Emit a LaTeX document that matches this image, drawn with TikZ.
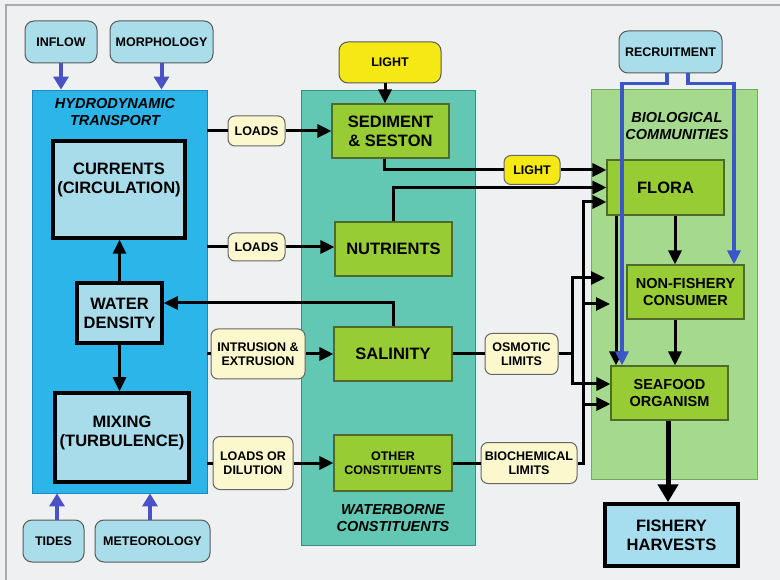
\documentclass[tikz,border=0pt]{standalone}
\usepackage{fontspec}
\setmainfont{Liberation Sans}
\usetikzlibrary{arrows.meta}
\definecolor{bg}{HTML}{EEF0F1}
\definecolor{frame}{HTML}{A8AAAC}
\definecolor{hydro}{HTML}{2CB5E8}
\definecolor{hydroedge}{HTML}{1C88C8}
\definecolor{teal1}{HTML}{62C7B3}
\definecolor{tealedge}{HTML}{3C8C7C}
\definecolor{bio}{HTML}{A5DA8E}
\definecolor{bioedge}{HTML}{6AAE5A}
\definecolor{lightblue}{HTML}{A9DCEA}
\definecolor{srcblue}{HTML}{AADDEA}
\definecolor{harvblue}{HTML}{A6DEF0}
\definecolor{gfill}{HTML}{98CC34}
\definecolor{gedge}{HTML}{4F6A2A}
\definecolor{cream}{HTML}{FCF8CE}
\definecolor{yel}{HTML}{F6E814}
\definecolor{barrow}{HTML}{4A52C4}
\definecolor{rblue}{HTML}{3A56C8}
\tikzset{
  bigtext/.style={font=\fontsize{16.5}{19}\selectfont\bfseries, align=center},
  midtext/.style={font=\fontsize{14.5}{17}\selectfont\bfseries, align=center},
  smalltext/.style={font=\fontsize{12.5}{14.5}\selectfont\bfseries, align=center},
  titletext/.style={font=\fontsize{14.5}{16.5}\selectfont\bfseries\itshape, align=center},
  panel/.style={inner sep=0pt, line width=0.8pt},
  src/.style={smalltext, draw=black!65, fill=srcblue, rounded corners=9pt, line width=1pt, inner sep=0pt},
  ysrc/.style={src, fill=yel},
  lbl/.style={smalltext, draw=black!60, fill=cream, rounded corners=7pt, line width=1pt, inner sep=0pt},
  ylbl/.style={lbl, fill=yel},
  hbox/.style={bigtext, draw=black, line width=3.5pt, fill=lightblue, inner sep=0pt},
  gbox/.style={bigtext, draw=gedge, line width=1.1pt, fill=gfill, inner sep=0pt, minimum width=117pt, minimum height=54pt},
  conn/.style={line width=3pt, black},
  arr/.style={conn, -{Triangle[length=14pt,width=13pt]}},
  bigarr/.style={line width=5pt, black, -{Triangle[length=18pt,width=20pt]}},
  barr/.style={line width=4pt, barrow, -{Triangle[length=13pt,width=15pt]}},
  rarr/.style={line width=3.2pt, rblue, -{Triangle[length=14pt,width=13pt]}},
}
\begin{document}
\begin{tikzpicture}[x=1pt,y=-1pt]
\path[use as bounding box, fill=bg] (0,0) rectangle (780,580);
\draw[frame, line width=1.2pt] (6,580) -- (6,5) -- (780,5);

% panels
\node[panel, fill=hydro, draw=hydroedge, minimum width=175pt, minimum height=403pt] (hydro) at (119.5,291.5) {};
\node[panel, fill=teal1, draw=tealedge, minimum width=174pt, minimum height=455pt] (water) at (388,317.5) {};
\node[panel, fill=bio, draw=bioedge, minimum width=166pt, minimum height=390pt] (bio) at (674,284) {};

% titles
\node[titletext] (htitle) at (115,112) {HYDRODYNAMIC\\TRANSPORT};
\node[titletext] (wtitle) at (393,518) {WATERBORNE\\CONSTITUENTS};
\node[titletext] (btitle) at (677,126) {BIOLOGICAL\\COMMUNITIES};

% sources
\node[src, minimum width=72pt, minimum height=42pt] (inflow) at (61,42) {INFLOW};
\node[src, minimum width=103pt, minimum height=42pt] (morph) at (161.5,42) {MORPHOLOGY};
\node[src, minimum width=61pt, minimum height=42pt] (tides) at (53.5,541) {TIDES};
\node[src, minimum width=115pt, minimum height=42pt] (meteo) at (152.5,541) {METEOROLOGY};
\node[src, minimum width=103pt, minimum height=42pt] (recruit) at (670.5,52) {RECRUITMENT};
\node[ysrc, minimum width=102pt, minimum height=41pt] (light) at (390,62.5) {LIGHT};

% hydrodynamic boxes
\node[hbox, minimum width=132pt, minimum height=97pt,
  label={[bigtext, yshift=10pt]center:{CURRENTS\\(CIRCULATION)}}] (currents) at (119,189.5) {};
\node[hbox, minimum width=85pt, minimum height=60pt] (wd) at (119.5,313) {WATER\\DENSITY};
\node[hbox, minimum width=134pt, minimum height=89pt,
  label={[bigtext, yshift=5pt]center:{MIXING\\(TURBULENCE)}}] (mixing) at (122,437.5) {};

% waterborne boxes
\node[gbox] (sed) at (390.5,131) {SEDIMENT\\\& SESTON};
\node[gbox] (nut) at (393.5,249) {NUTRIENTS};
\node[gbox, minimum width=118pt] (sal) at (393,354) {SALINITY};
\node[gbox, smalltext, minimum width=118pt, minimum height=56pt] (other) at (393,463) {OTHER\\CONSTITUENTS};

% biological boxes
\node[gbox, minimum height=55pt] (flora) at (665.5,187.5) {FLORA};
\node[gbox, midtext] (nonf) at (685.5,292) {NON-FISHERY\\CONSUMER};
\node[gbox, midtext] (sea) at (669.5,393) {SEAFOOD\\ORGANISM};
\node[hbox, fill=harvblue, minimum width=133pt, minimum height=62pt] (harv) at (671.5,535) {FISHERY\\HARVESTS};

% labels
\node[lbl, minimum width=57pt, minimum height=30pt] (loads1) at (256.5,131) {LOADS};
\node[lbl, minimum width=57pt, minimum height=28pt] (loads2) at (256.5,247) {LOADS};
\node[lbl, minimum width=94pt, minimum height=50pt] (intr) at (258,354) {INTRUSION \&\\EXTRUSION};
\node[lbl, minimum width=80pt, minimum height=53pt] (lod) at (253,463) {LOADS OR\\DILUTION};
\node[ylbl, minimum width=56pt, minimum height=29pt] (light2) at (532,170) {LIGHT};
\node[lbl, minimum width=73pt, minimum height=41pt] (osm) at (521.5,354) {OSMOTIC\\LIMITS};
\node[lbl, minimum width=96pt, minimum height=41pt] (bioch) at (529,463) {BIOCHEMICAL\\LIMITS};

% helper coordinates
\coordinate (c616) at (616,0);
\coordinate (c622) at (622,0);
\coordinate (c667) at (667,0);
\coordinate (c668) at (668,0);
\coordinate (c675) at (675,0);
\coordinate (c688) at (688,0);
\coordinate (c734) at (734,0);
\coordinate (oj) at (572,354);
\coordinate (bj) at (583,463);
\coordinate (ntop) at (605,278);
\coordinate (nmid) at (610,304);

% blue driver arrows
\draw[barr] (inflow.south) -- (inflow.south |- hydro.north);
\draw[barr] (morph.south) -- (morph.south |- hydro.north);
\draw[barr] ([xshift=3.5pt]tides.north) -- ([xshift=3.5pt]tides.north |- hydro.south);
\draw[barr] ([xshift=-2.5pt]meteo.north) -- ([xshift=-2.5pt]meteo.north |- hydro.south);

% hydrodynamic internal
\draw[arr] (wd.north) -- (wd.north |- currents.south);
\draw[arr] (wd.south) -- (wd.south |- mixing.north);

% light
\draw[arr] ([xshift=-5pt]light.south) -- ([xshift=-5pt]light.south |- sed.north);

% loads
\draw[conn] (hydro.east |- loads1) -- (loads1.west);
\draw[arr] (loads1.east) -- (loads1.east -| sed.west);
\draw[conn] (hydro.east |- loads2) -- (loads2.west);
\draw[arr] (loads2.east) -- (loads2.east -| nut.west);
\draw[conn] (hydro.east |- intr) -- (intr.west);
\draw[arr] (intr.east) -- (intr.east -| sal.west);
\draw[conn] (hydro.east |- lod) -- (lod.west);
\draw[arr] (lod.east) -- (lod.east -| other.west);

% salinity -> water density
\draw[arr] (sal.north) |- ([yshift=10pt]wd.east);

% to flora
\draw[conn] ([xshift=-6.5pt]sed.south) |- (light2.west);
\draw[arr] (light2.east) -- (light2.east -| flora.west);
\draw[arr] (nut.north) |- (flora.west);

% osmotic limits
\draw[conn] (sal.east) -- (osm.west);
\draw[conn] (osm.east) -- (oj);
\draw[arr] (oj) |- (ntop);
\draw[arr] (oj) |- ([yshift=9pt]sea.west);

% biochemical limits
\draw[conn] (other.east) -- (bioch.west);
\draw[arr] (bioch.east) -- (bj) |- ([yshift=-14.5pt]flora.west);
\draw[arr] (bj) |- (nmid);
\draw[arr] (bj) |- ([yshift=-11pt]sea.west);

% biological internal
\draw[arr] (flora.south -| c616) -- (sea.north -| c616);
\draw[arr] (flora.south -| c675) -- (nonf.north -| c675);
\draw[arr] (nonf.south -| c675) -- (sea.north -| c675);
\draw[bigarr] (sea.south -| c668) -- (harv.north -| c668);

% recruitment
\draw[rarr] (recruit.south -| c667) -- ++(0,10) -| (sea.north -| c622);
\draw[rarr] (recruit.south -| c688) -- ++(0,10) -| (nonf.north -| c734);
\end{tikzpicture}
\end{document}
